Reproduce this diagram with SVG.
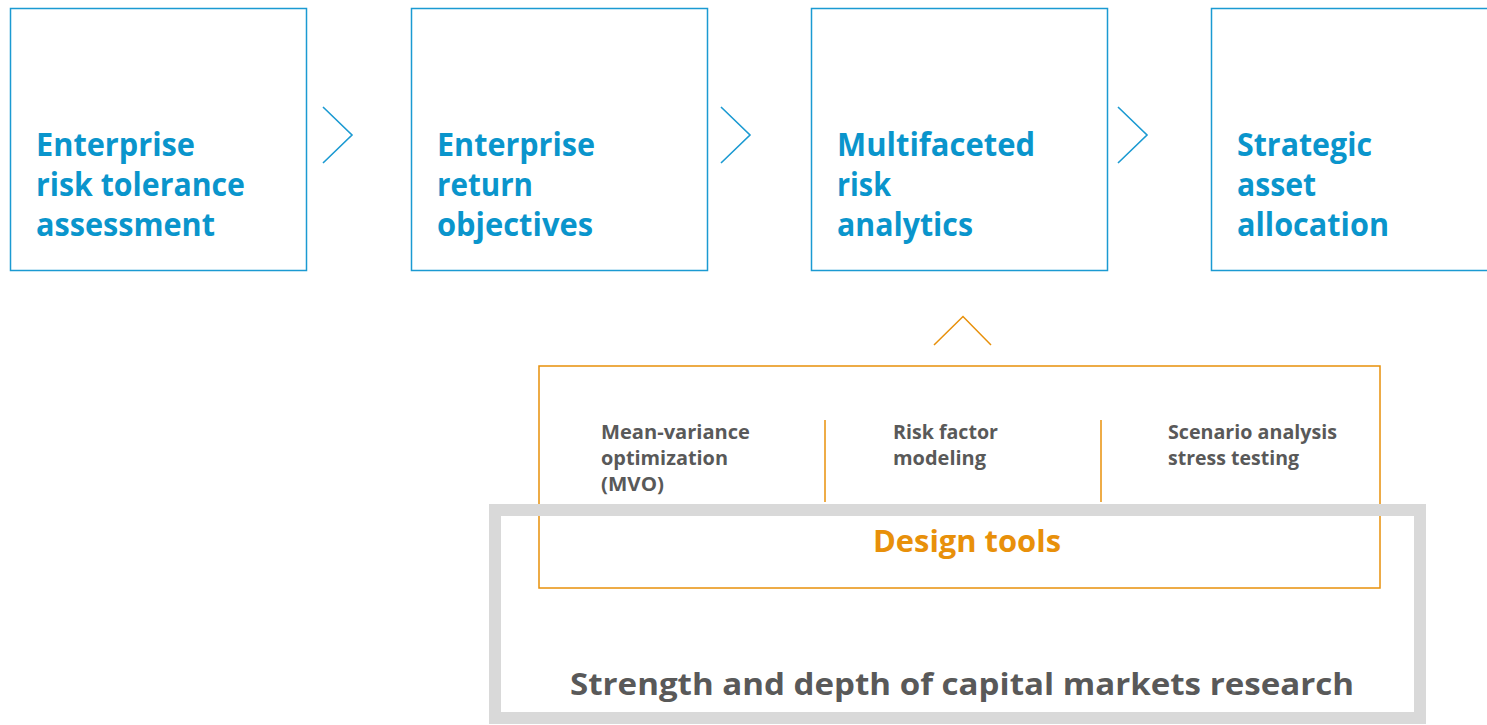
<svg xmlns="http://www.w3.org/2000/svg" width="1487" height="725" viewBox="0 0 1487 725">
<style>
.box{fill:#fff;stroke:#1b9ad2;stroke-width:1.5}
.chev{fill:none;stroke:#1b9ad2;stroke-width:1.6}
.t{font-family:"Open Sans","Liberation Sans",sans-serif;font-weight:700;font-size:32px;fill:#0a95cc}
.g{font-family:"Open Sans","Liberation Sans",sans-serif;font-weight:700;font-size:19px;fill:#595959}
.o{fill:none;stroke:#e8900a;stroke-width:1.5}
</style>
<rect width="1487" height="725" fill="#fff"/>
<g id="node-risk-tolerance">
<rect class="box" x="10.5" y="8.5" width="296" height="262"/>
<text class="t" x="36" y="156" textLength="159" lengthAdjust="spacingAndGlyphs">Enterprise</text>
<text class="t" x="36" y="196" textLength="209" lengthAdjust="spacingAndGlyphs">risk tolerance</text>
<text class="t" x="36" y="236" textLength="179" lengthAdjust="spacingAndGlyphs">assessment</text>
</g>
<g id="node-return-objectives">
<rect class="box" x="411.5" y="8.5" width="296" height="262"/>
<text class="t" x="437" y="156" textLength="158" lengthAdjust="spacingAndGlyphs">Enterprise</text>
<text class="t" x="437" y="196" textLength="96" lengthAdjust="spacingAndGlyphs">return</text>
<text class="t" x="437" y="236" textLength="156" lengthAdjust="spacingAndGlyphs">objectives</text>
</g>
<g id="node-risk-analytics">
<rect class="box" x="811.5" y="8.5" width="296" height="262"/>
<text class="t" x="837" y="156" textLength="198" lengthAdjust="spacingAndGlyphs">Multifaceted</text>
<text class="t" x="837" y="196" textLength="54" lengthAdjust="spacingAndGlyphs">risk</text>
<text class="t" x="837" y="236" textLength="136" lengthAdjust="spacingAndGlyphs">analytics</text>
</g>
<g id="node-strategic-allocation">
<rect class="box" x="1211.5" y="8.5" width="300" height="262"/>
<text class="t" x="1237" y="156" textLength="135" lengthAdjust="spacingAndGlyphs">Strategic</text>
<text class="t" x="1237" y="196" textLength="79" lengthAdjust="spacingAndGlyphs">asset</text>
<text class="t" x="1237" y="236" textLength="152" lengthAdjust="spacingAndGlyphs">allocation</text>
</g>
<g id="connectors">
<polyline class="chev" points="323,107 352,135 323,163"/>
<polyline class="chev" points="721,107 750,135 721,163"/>
<polyline class="chev" points="1118,107 1147,135 1118,163"/>
<polyline class="o" points="934,345 963,316.5 991,345"/>
</g>
<g id="node-design-tools">
<rect class="o" x="539" y="366" width="841" height="222"/>
<line class="o" x1="825" y1="420" x2="825" y2="502"/>
<line class="o" x1="1101" y1="420" x2="1101" y2="502"/>
<text class="g" x="601" y="439" textLength="149" lengthAdjust="spacingAndGlyphs">Mean-variance</text>
<text class="g" x="601" y="465" textLength="127" lengthAdjust="spacingAndGlyphs">optimization</text>
<text class="g" x="601" y="491" textLength="63" lengthAdjust="spacingAndGlyphs">(MVO)</text>
<text class="g" x="893" y="439" textLength="105" lengthAdjust="spacingAndGlyphs">Risk factor</text>
<text class="g" x="893" y="465" textLength="93" lengthAdjust="spacingAndGlyphs">modeling</text>
<text class="g" x="1168" y="439" textLength="169" lengthAdjust="spacingAndGlyphs">Scenario analysis</text>
<text class="g" x="1168" y="465" textLength="131" lengthAdjust="spacingAndGlyphs">stress testing</text>
</g>
<g id="node-research">
<rect x="495" y="510" width="925" height="208" fill="none" stroke="#d9d9d9" stroke-width="12"/>
<text x="873" y="552" textLength="188" lengthAdjust="spacingAndGlyphs" font-family="Open Sans, Liberation Sans, sans-serif" font-weight="700" font-size="30" fill="#e8900a">Design tools</text>
<text x="570" y="695" textLength="784" lengthAdjust="spacingAndGlyphs" font-family="Open Sans, Liberation Sans, sans-serif" font-weight="700" font-size="31" fill="#595959">Strength and depth of capital markets research</text>
</g>
</svg>
